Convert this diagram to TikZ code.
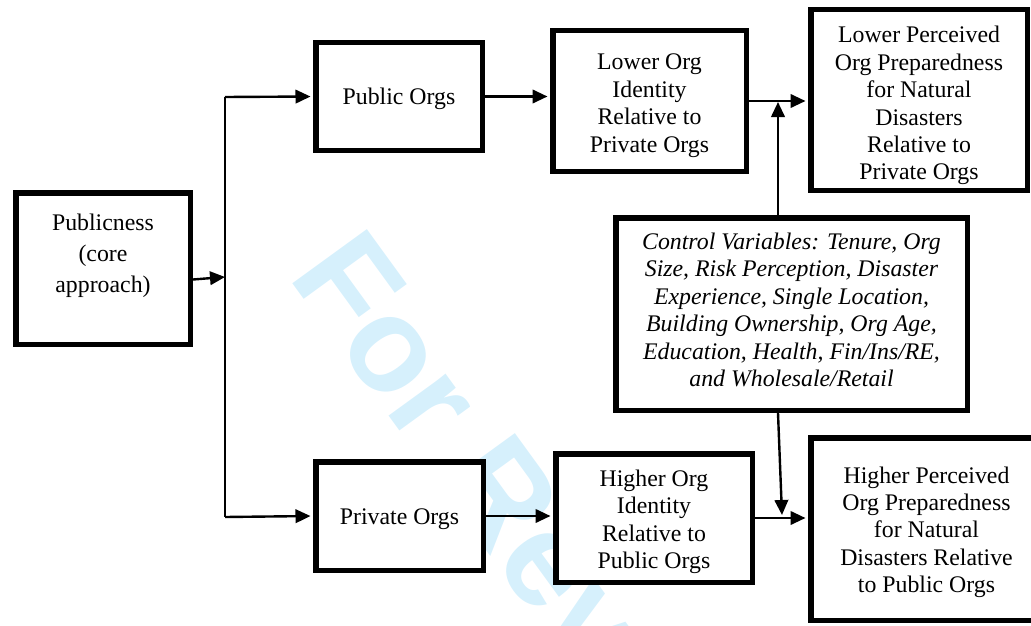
\documentclass[tikz,border=0pt]{standalone}
\usepackage{fontspec}
\setmainfont{Liberation Serif}
\newfontfamily\wmfont{Liberation Sans}
\usetikzlibrary{arrows.meta}
\definecolor{wmblue}{RGB}{214,240,252}
% texte centre, decale verticalement
\newcommand\texte[2][-3.5pt]{\raisebox{#1}[\height][\depth]{\begin{tabular}{@{}c@{}}#2\end{tabular}}}

\begin{document}
\begin{tikzpicture}[x=1pt,y=-1pt,
  boite/.style={draw, fill=white, line width=5.5pt, inner sep=0pt,
    font=\fontsize{23.8}{27.4}\selectfont},
  fleche/.style={line width=2.4pt, -{Triangle[length=15pt,width=13.5pt]}, shorten >=2.5pt},
  trait/.style={line width=2.4pt}]

\useasboundingbox (0,0) rectangle (1031,626);
\clip (0,0) rectangle (1031,626);

% Filigrane
\node[anchor=base west, rotate=-54, text=wmblue, inner sep=0pt,
  font={\wmfont\bfseries\fontsize{134}{134}\selectfont}] (filigrane) at (287,276) {For Review};

% Les boites
\node[boite, minimum width=174.5pt, minimum height=151.5pt, font=\fontsize{23.8}{31}\selectfont] (pub) at (103,268.5) {\texte[13pt]{Publicness\\(core\\approach)}};
\node[boite, minimum width=166.5pt, minimum height=107.5pt] (puborg) at (399,96.5) {\texte[-3pt]{Public Orgs}};
\node[boite, minimum width=167.5pt, minimum height=108.5pt] (privorg) at (399.5,516) {\texte[-3pt]{Private Orgs}};
\node[boite, minimum width=193.5pt, minimum height=140.5pt] (lowid) at (649.5,101) {\texte[-4.5pt]{Lower Org\\Identity\\Relative to\\Private Orgs}};
\node[boite, minimum width=196.5pt, minimum height=128.5pt] (highid) at (654,518) {\texte[-4pt]{Higher Org\\Identity\\Relative to\\Public Orgs}};
\node[boite, minimum width=216.5pt, minimum height=180.5pt] (lowprep) at (919,100) {\texte[-6pt]{Lower Perceived\\Org Preparedness\\for Natural\\Disasters\\Relative to\\Private Orgs}};
\node[boite, minimum width=231.5pt, minimum height=182.5pt] (highprep) at (926.5,529) {\texte[-3.5pt]{Higher Perceived\\Org Preparedness\\for Natural\\Disasters Relative\\to Public Orgs}};
\node[boite, minimum width=351.5pt, minimum height=192.5pt, font=\fontsize{23.8}{27.4}\selectfont\itshape] (ctrl) at (791.5,314) {\texte[1.5pt]{Control Variables: Tenure, Org\\Size, Risk Perception, Disaster\\Experience, Single Location,\\Building Ownership, Org Age,\\Education, Health, Fin/Ins/RE,\\and Wholesale/Retail}};

% Points de jonction
\coordinate (haut) at (225,97);
\coordinate (bas) at (225,517);
\coordinate (jonction) at (225,277);
\coordinate (c1) at (778,102);
\coordinate (c2) at (782,515);

% Les fleches
\draw[fleche, shorten >=0pt] ([yshift=-11pt]pub.east) -- (jonction);
\draw[trait] (haut) -- (bas);
\draw[fleche] (haut) -- (puborg.west);
\draw[fleche] (bas) -- (privorg.west);
\draw[fleche] (puborg.east) -- (puborg.east -| lowid.west);
\draw[fleche] (privorg.east) -- (privorg.east -| highid.west);
\draw[fleche] (lowid.east) -- (lowid.east -| lowprep.west);
\draw[fleche] (highid.east) -- (highid.east -| highprep.west);
\draw[fleche, shorten >=0pt] (ctrl.north -| c1) -- (c1);
\draw[fleche, shorten >=0pt] (ctrl.south -| c1) -- (c2);

\end{tikzpicture}
\end{document}
